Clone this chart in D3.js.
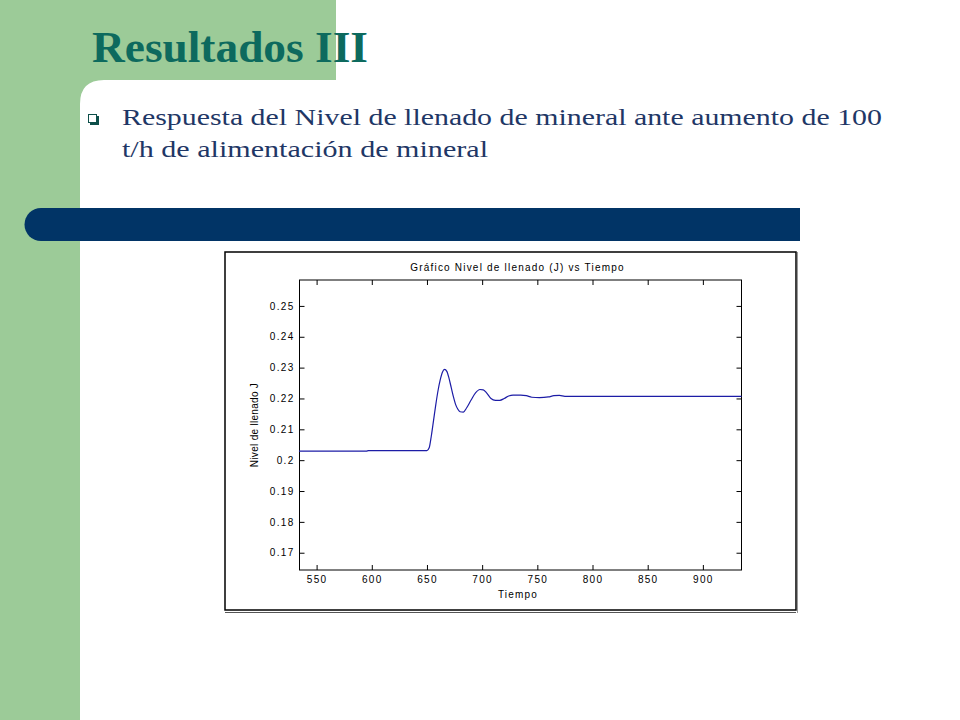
<!DOCTYPE html>
<html>
<head>
<meta charset="utf-8">
<script src="https://cdn.jsdelivr.net/npm/d3@7"></script>
<style>
  html, body { margin: 0; padding: 0; background: #fff; }
  svg { display: block; }
  .tick text { font-family: Arial, "Liberation Sans", sans-serif; font-size: 10px; letter-spacing: 1.3px; fill: #000; }
  .tick line { stroke: #000; }
</style>
</head>
<body>
<div id="slide"></div>
<script>
// Nivel de llenado response after +100 t/h feed step

var tiempo = [534, 595, 597, 650, 652, 654, 656, 658, 660, 662, 664, 666, 668, 670, 672, 674, 676, 678, 680, 683,
              686, 690, 694, 698, 701, 704, 708, 712, 716, 720, 724, 728, 735, 740, 745, 752, 760, 765, 770, 775, 935];
var nivel = [0.2029, 0.2029, 0.2031, 0.2031, 0.2040, 0.2080, 0.2130, 0.2180, 0.2225, 0.2260, 0.2285, 0.2294, 0.2288,
             0.2265, 0.2235, 0.2205, 0.2180, 0.2165, 0.2157, 0.2156, 0.2170, 0.2195, 0.2218, 0.2229, 0.2228, 0.2218,
             0.2200, 0.2194, 0.2194, 0.2200, 0.2208, 0.2211, 0.2211, 0.2209, 0.2204, 0.2203, 0.2205, 0.2209, 0.2210,
             0.2207, 0.2207];
var xTicks = [550, 600, 650, 700, 750, 800, 850, 900];
var yTicks = [0.17, 0.18, 0.19, 0.2, 0.21, 0.22, 0.23, 0.24, 0.25];

var W = 960, H = 720;
var svg = d3.select("#slide").append("svg").attr("width", W).attr("height", H);

// slide decoration
var green = "#9ccb98";
svg.append("rect").attr("x", 0).attr("y", 0).attr("width", 80).attr("height", H).attr("fill", green);
svg.append("rect").attr("x", 0).attr("y", 0).attr("width", 336).attr("height", 80).attr("fill", green);
// white rounded corner of content area
svg.append("path")
    .attr("d", "M80,80 L104,80 Q80,80 80,104 Z")
    .attr("fill", green);

svg.append("text")
    .attr("x", 92).attr("y", 62)
    .attr("textLength", 276).attr("lengthAdjust", "spacingAndGlyphs")
    .style("font-family", "'Liberation Serif', 'DejaVu Serif', serif")
    .style("font-weight", "bold").style("font-size", "44px")
    .attr("fill", "#0d6a5e")
    .text("Resultados III");

// bullet
svg.append("rect").attr("x", 90).attr("y", 116).attr("width", 9).attr("height", 9).attr("fill", "#0d4f4a");
svg.append("rect").attr("x", 88.5).attr("y", 114.5).attr("width", 8).attr("height", 8)
    .attr("fill", "#fff").attr("stroke", "#0d4f4a").attr("stroke-width", 1);

var body = svg.append("g")
    .style("font-family", "'Liberation Serif', 'DejaVu Serif', serif")
    .style("font-size", "23px").attr("fill", "#1f3766");
body.append("text").attr("x", 122).attr("y", 125)
    .attr("textLength", 760).attr("lengthAdjust", "spacingAndGlyphs")
    .text("Respuesta del Nivel de llenado de mineral ante aumento de 100");
body.append("text").attr("x", 122).attr("y", 157)
    .attr("textLength", 366).attr("lengthAdjust", "spacingAndGlyphs")
    .text("t/h de alimentación de mineral");

// navy bar with rounded left end
svg.append("path")
    .attr("d", "M41,208 L800,208 L800,241 L41,241 A16.5,16.5 0 0 1 41,208 Z")
    .attr("fill", "#013466");

// figure frame
svg.append("rect").attr("x", 225).attr("y", 252).attr("width", 571).attr("height", 358)
    .attr("fill", "#fff").attr("stroke", "#000").attr("stroke-width", 1.5);
svg.append("line").attr("x1", 225).attr("x2", 796).attr("y1", 612.5).attr("y2", 612.5)
    .attr("stroke", "#555").attr("stroke-width", 1);
svg.append("line").attr("x1", 797.5).attr("x2", 797.5).attr("y1", 252).attr("y2", 613)
    .attr("stroke", "#999").attr("stroke-width", 1);

// plot
var x = d3.scaleLinear().domain([534.5, 935]).range([299.5, 741.5]);
var y = d3.scaleLinear().domain([0.1644, 0.2584]).range([570, 280]);

var plot = svg.append("g");

plot.append("g").attr("transform", "translate(0,570)")
    .call(d3.axisBottom(x).tickValues(xTicks).tickSizeInner(-5).tickSizeOuter(0).tickPadding(6).tickFormat(d3.format("d")))
    .call(function(g) { g.select(".domain").remove(); });
plot.append("g").attr("transform", "translate(0,280)")
    .call(d3.axisTop(x).tickValues(xTicks).tickSizeInner(-5).tickSizeOuter(0).tickFormat(""))
    .call(function(g) { g.select(".domain").remove(); });
plot.append("g").attr("transform", "translate(299.5,0)")
    .call(d3.axisLeft(y).tickValues(yTicks).tickSizeInner(-5).tickSizeOuter(0).tickPadding(5).tickFormat(d3.format("")))
    .call(function(g) { g.select(".domain").remove(); });
plot.append("g").attr("transform", "translate(741.5,0)")
    .call(d3.axisRight(y).tickValues(yTicks).tickSizeInner(-5).tickSizeOuter(0).tickFormat(""))
    .call(function(g) { g.select(".domain").remove(); });

plot.append("rect")
    .attr("x", x.range()[0]).attr("y", y.range()[1])
    .attr("width", x.range()[1] - x.range()[0]).attr("height", y.range()[0] - y.range()[1])
    .attr("fill", "none").attr("stroke", "#000").attr("stroke-width", 1);

var pts = tiempo.map(function(t, i) { return [t, nivel[i]]; });
var line = d3.line()
    .x(function(d) { return x(d[0]); })
    .y(function(d) { return y(d[1]); })
    .curve(d3.curveMonotoneX);

plot.append("path").datum(pts)
    .attr("d", line)
    .attr("fill", "none").attr("stroke", "#1c1ca6").attr("stroke-width", 1.2);

var lab = svg.append("g")
    .style("font-family", "Arial, 'Liberation Sans', sans-serif")
    .style("font-size", "10px").attr("fill", "#000");
lab.append("text").attr("x", 517.5).attr("y", 271).attr("text-anchor", "middle")
    .style("letter-spacing", "1.2px")
    .text("Gráfico Nivel de llenado (J) vs Tiempo");
lab.append("text").attr("x", 518).attr("y", 598).attr("text-anchor", "middle")
    .style("letter-spacing", "1.2px")
    .text("Tiempo");
lab.append("text").attr("transform", "translate(258,425) rotate(-90)").attr("text-anchor", "middle")
    .style("letter-spacing", "0.3px")
    .text("Nivel de llenado J");
</script>
</body>
</html>
